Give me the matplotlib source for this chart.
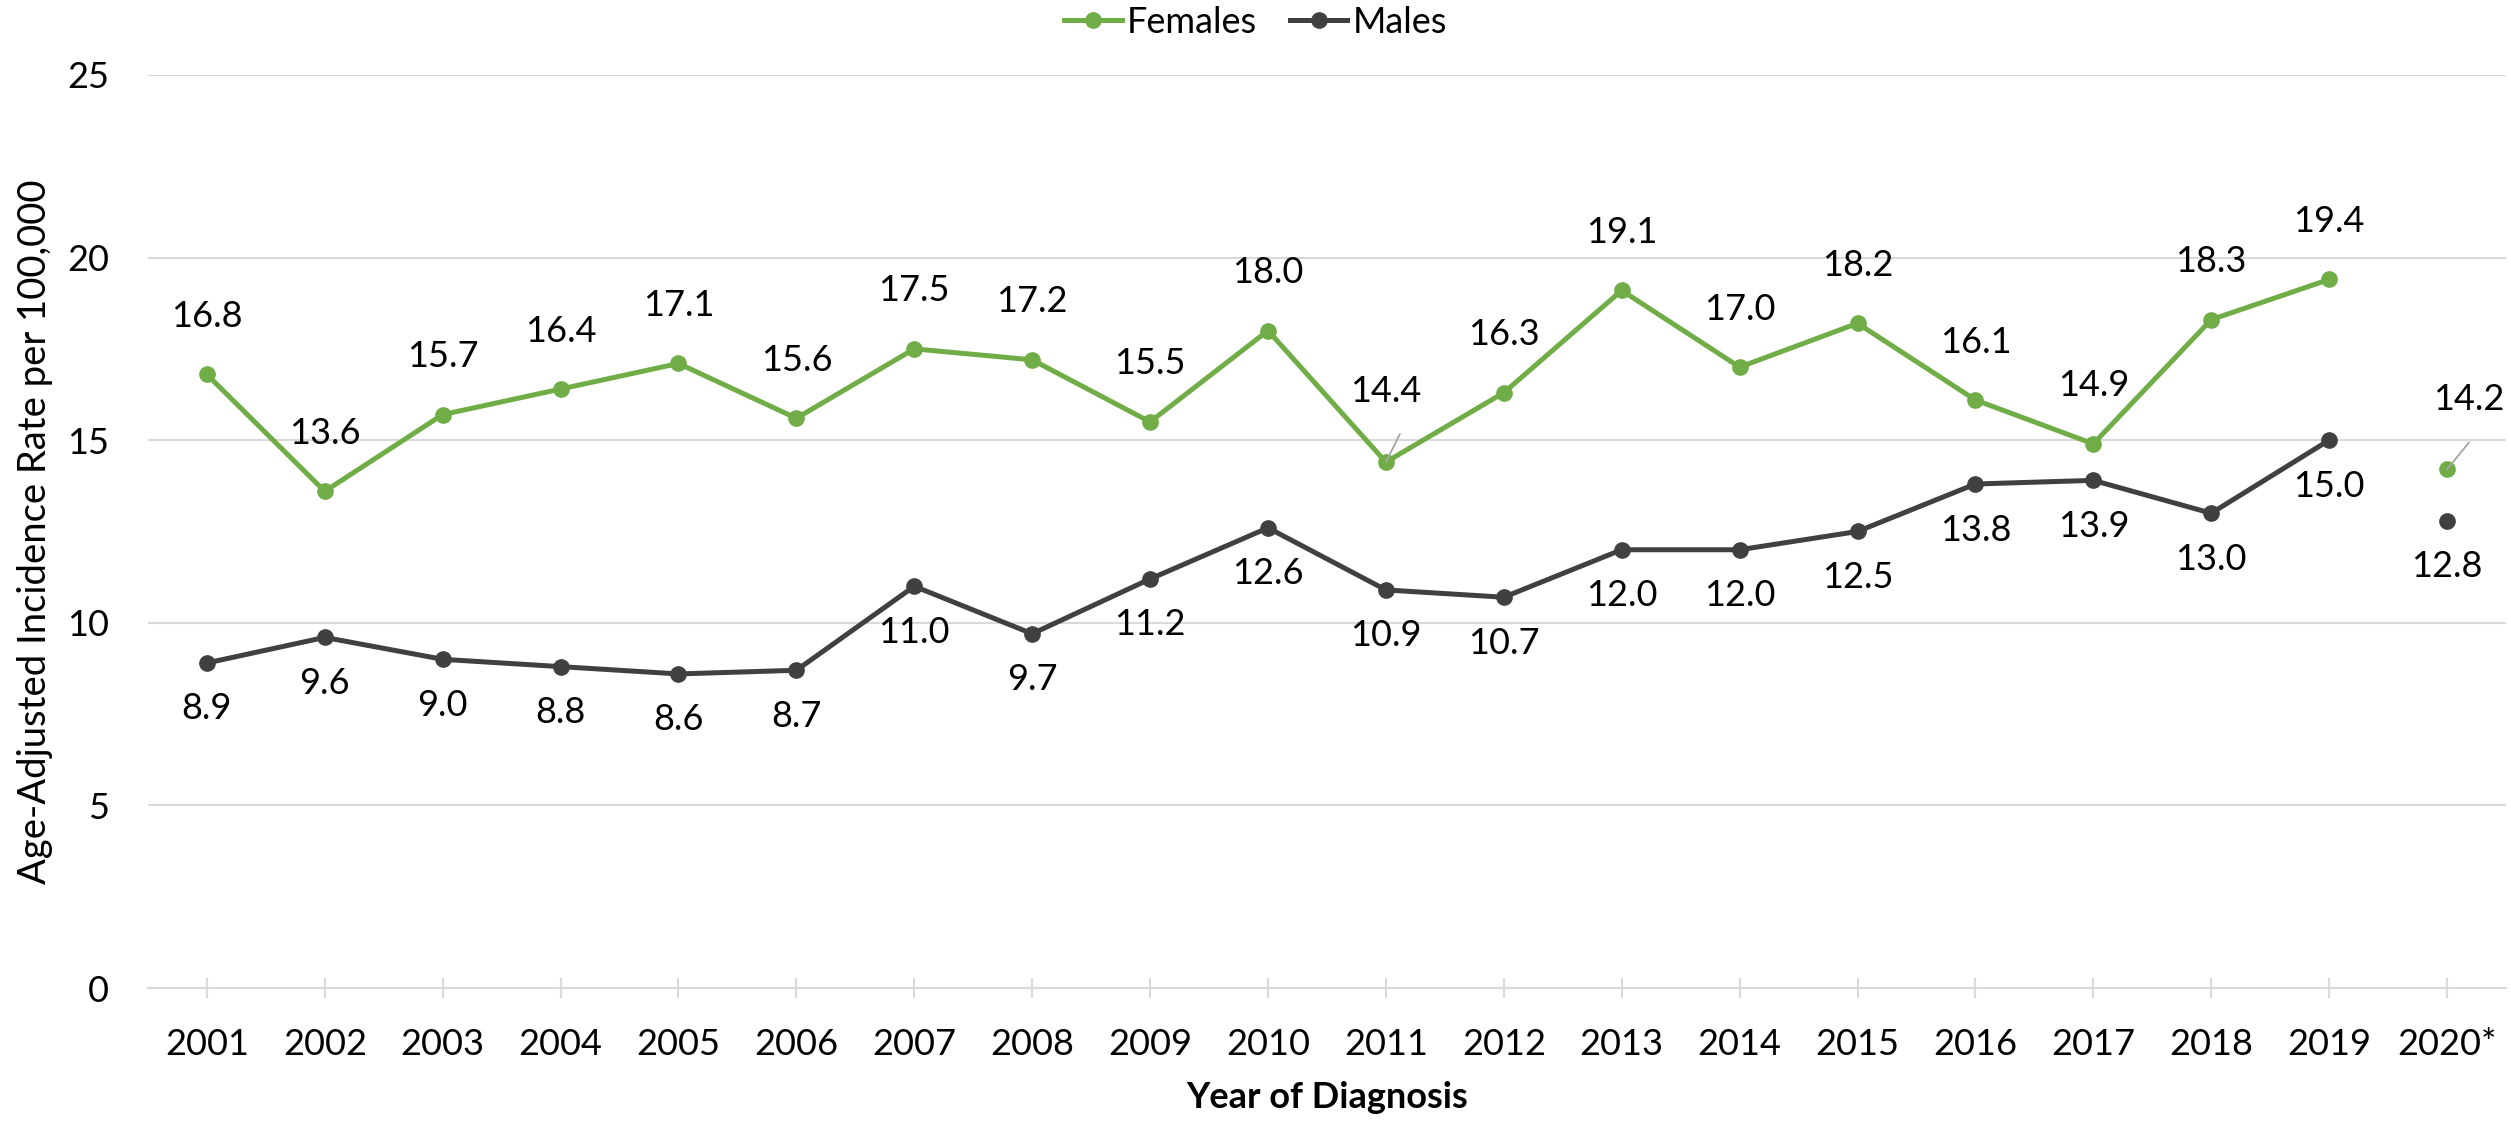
import numpy as np
import matplotlib.pyplot as plt

plt.rcParams['font.family'] = ['Lato', 'DejaVu Sans']

years = ['2001', '2002', '2003', '2004', '2005', '2006', '2007', '2008', '2009', '2010',
         '2011', '2012', '2013', '2014', '2015', '2016', '2017', '2018', '2019', '2020*']
females = [16.8, 13.6, 15.7, 16.4, 17.1, 15.6, 17.5, 17.2, 15.5, 18.0,
           14.4, 16.3, 19.1, 17.0, 18.2, 16.1, 14.9, 18.3, 19.4, 14.2]
males = [8.9, 9.6, 9.0, 8.8, 8.6, 8.7, 11.0, 9.7, 11.2, 12.6,
         10.9, 10.7, 12.0, 12.0, 12.5, 13.8, 13.9, 13.0, 15.0, 12.8]

green = '#70AD47'
dark = '#404040'
grid_c = '#D9D9D9'
fs = 26

fig = plt.figure(figsize=(25.11, 11.22), dpi=100)
ax = fig.add_axes([0.0589, 0.1194, 0.9391, 0.8138])

x = np.arange(len(years))
# 2020 is shown apart from the trend line
for vals, col, name in [(females, green, 'Females'), (males, dark, 'Males')]:
    ax.plot(x[:-1], vals[:-1], color=col, lw=3.6, marker='o', ms=11, label=name, zorder=3)
    ax.plot(x[-1:], vals[-1:], color=col, lw=0, marker='o', ms=11, zorder=3)

px = 0.72  # points per pixel at dpi 100

for i, v in enumerate(females):
    dx, dy = 0, 58
    if i == 10:
        dy = 71
    if i == 19:
        dx, dy = 22, 70
    ax.annotate(f'{v:.1f}', (x[i], v), xytext=(dx * px, dy * px), textcoords='offset points',
                ha='center', va='center', fontsize=fs, color='black')
    if i in (10, 19):
        lx, ly = (14, 28) if i == 10 else (22, 27)
        ax.annotate('', (x[i], v), xytext=(lx * px, ly * px), textcoords='offset points',
                    arrowprops=dict(arrowstyle='-', color='#A6A6A6', lw=1.3, shrinkA=0, shrinkB=0))

for i, v in enumerate(males):
    ax.annotate(f'{v:.1f}', (x[i], v), xytext=(0, -46 * px), textcoords='offset points',
                ha='center', va='center', fontsize=fs, color='black')

ax.set_xlim(-0.5, len(years) - 0.5)
ax.set_ylim(0, 25)
ax.set_yticks([0, 5, 10, 15, 20, 25])
ax.set_xticks(x)
ax.set_xticklabels(years)
ax.yaxis.grid(True, color=grid_c, lw=1.5)
ax.set_axisbelow(True)
for s in ['top', 'right', 'left']:
    ax.spines[s].set_visible(False)
ax.spines['bottom'].set_color(grid_c)
ax.spines['bottom'].set_linewidth(1.5)
ax.tick_params(axis='y', length=0, pad=28, labelsize=fs)
ax.tick_params(axis='x', direction='inout', length=14, width=1.5, color=grid_c, pad=22, labelsize=fs)

ax.set_xlabel('Year of Diagnosis', fontsize=fs, fontweight='bold', labelpad=14)
ax.set_ylabel('Age-Adjusted Incidence Rate per 100,000', fontsize=27.5, labelpad=10)

fig.legend(loc='center', bbox_to_anchor=(0.5, 0.98), ncol=2, frameon=False, fontsize=fs,
           handlelength=1.6, handletextpad=0.15, columnspacing=0.9, borderaxespad=0)

fig.savefig('out.png', dpi=100)
